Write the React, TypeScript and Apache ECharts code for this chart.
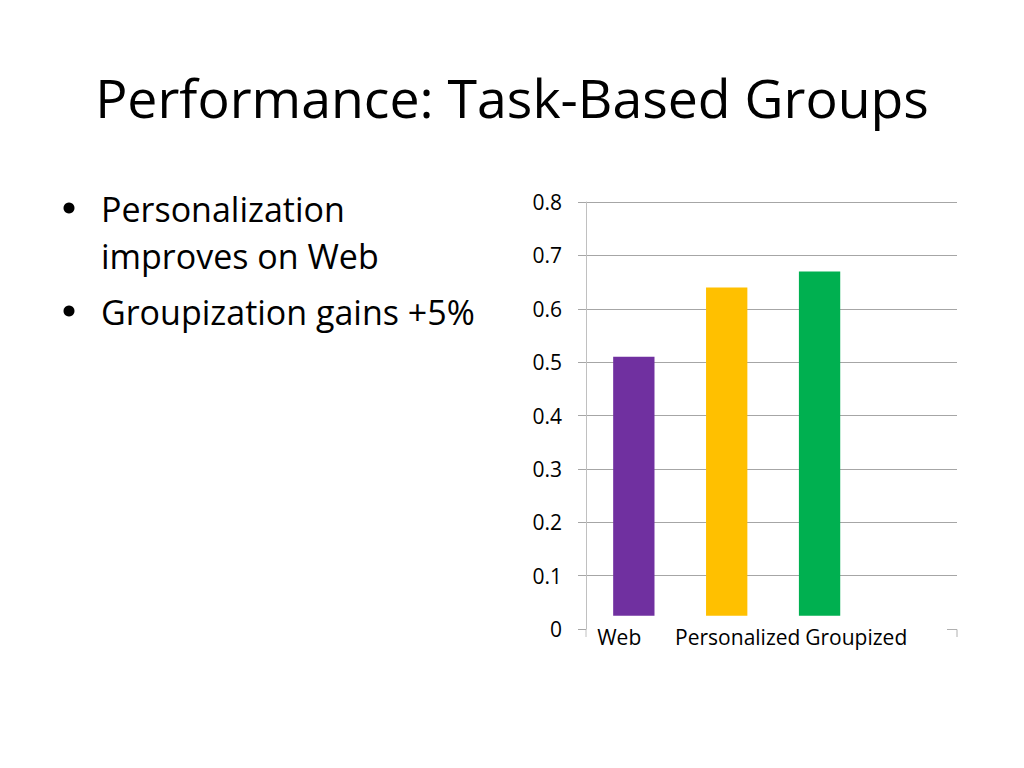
import React, { useEffect, useRef } from "react";
import * as echarts from "echarts";

const titleText = "Performance: Task-Based Groups";
const bulletItems: string[][] = [["Personalization", "improves on Web"], ["Groupization gains +5%"]];
const categories = ["Web", "Personalized", "Groupized"];
const values = [0.51, 0.64, 0.67];
const barColors = ["#7030A0", "#FFC000", "#00B050"];
const yMin = 0;
const yMax = 0.8;
const yStep = 0.1;
const floorLevel = 0.025;

const FONT = "'Open Sans', 'Noto Sans', sans-serif";

export default function App() {
  const ref = useRef<HTMLDivElement>(null);
  useEffect(() => {
    document.body.style.margin = "0";
    const chart = echarts.init(ref.current!, null, { renderer: "svg" });

    const graphics: any[] = [
      {
        type: "text",
        x: 512,
        y: 97,
        style: { text: titleText, font: `53.6px ${FONT}`, fill: "#000", align: "center", verticalAlign: "middle" },
      },
    ];
    let yy = 209;
    bulletItems.forEach((lines, bi) => {
      if (bi > 0) yy += 56;
      graphics.push({
        type: "circle",
        shape: { cx: 69, cy: yy - 1, r: 5.5 },
        style: { fill: "#000" },
      });
      lines.forEach((ln, li) => {
        if (li > 0) yy += 47;
        graphics.push({
          type: "text",
          x: 101,
          y: yy,
          style: { text: ln, font: `34px ${FONT}`, fill: "#000", align: "left", verticalAlign: "middle" },
        });
      });
    });
    // 3D floor depth marks
    graphics.push({
      type: "line",
      shape: { x1: 586, y1: 629, x2: 586, y2: 637 },
      style: { stroke: "#c0c0c0", lineWidth: 1 },
    });
    graphics.push({
      type: "polyline",
      shape: { points: [[947, 629.5], [957, 629.5], [957, 637]] },
      style: { stroke: "#b0b0b0", lineWidth: 1, fill: "none" },
    });

    chart.setOption({
      animation: false,
      backgroundColor: "#fff",
      grid: [
        { left: 586, top: 202, width: 371, height: 427 },
        { left: 587.4, top: 202, width: 278.6, height: 427 },
        { left: 560, top: 202, width: 355.5, height: 427 },
      ],
      xAxis: [
        { type: "category", gridIndex: 0, data: categories, show: false },
        { type: "category", gridIndex: 1, data: categories, show: false },
        {
          type: "category",
          gridIndex: 2,
          data: categories,
          axisLine: { show: false },
          axisTick: { show: false },
          splitLine: { show: false },
          axisLabel: {
            color: "#000",
            fontFamily: FONT,
            fontSize: 21,
            verticalAlign: "middle",
            margin: 8,
            interval: 0,
          },
        },
      ],
      yAxis: [
        {
          type: "value",
          gridIndex: 0,
          min: yMin,
          max: yMax,
          interval: yStep,
          axisLine: { show: true, lineStyle: { color: "#c0c0c0", width: 1 } },
          axisTick: { show: true, length: 8, lineStyle: { color: "#a6a6a6" } },
          splitLine: { show: true, showMinLine: false, lineStyle: { color: "#a6a6a6", width: 1 } },
          axisLabel: {
            color: "#000",
            fontFamily: FONT,
            fontSize: 21,
            margin: 24,
            formatter: (v: number) => String(Math.round(v * 10) / 10),
          },
        },
        { type: "value", gridIndex: 1, min: yMin, max: yMax, show: false },
        { type: "value", gridIndex: 2, min: yMin, max: yMax, show: false },
      ],
      series: [
        {
          type: "custom",
          xAxisIndex: 1,
          yAxisIndex: 1,
          data: values.map((v, i) => [i, v]),
          renderItem: (params: any, api: any) => {
            const idx = api.value(0);
            const top = api.coord([idx, api.value(1)]);
            const bottom = api.coord([idx, floorLevel]);
            const w = api.size([1, 0])[0] * 0.445;
            return {
              type: "rect",
              shape: { x: top[0] - w / 2, y: top[1], width: w, height: bottom[1] - top[1] },
              style: { fill: barColors[idx] },
            };
          },
        },
      ],
      graphic: graphics,
    });
    return () => chart.dispose();
  }, []);
  return <div ref={ref} style={{ width: 1024, height: 768 }} />;
}
